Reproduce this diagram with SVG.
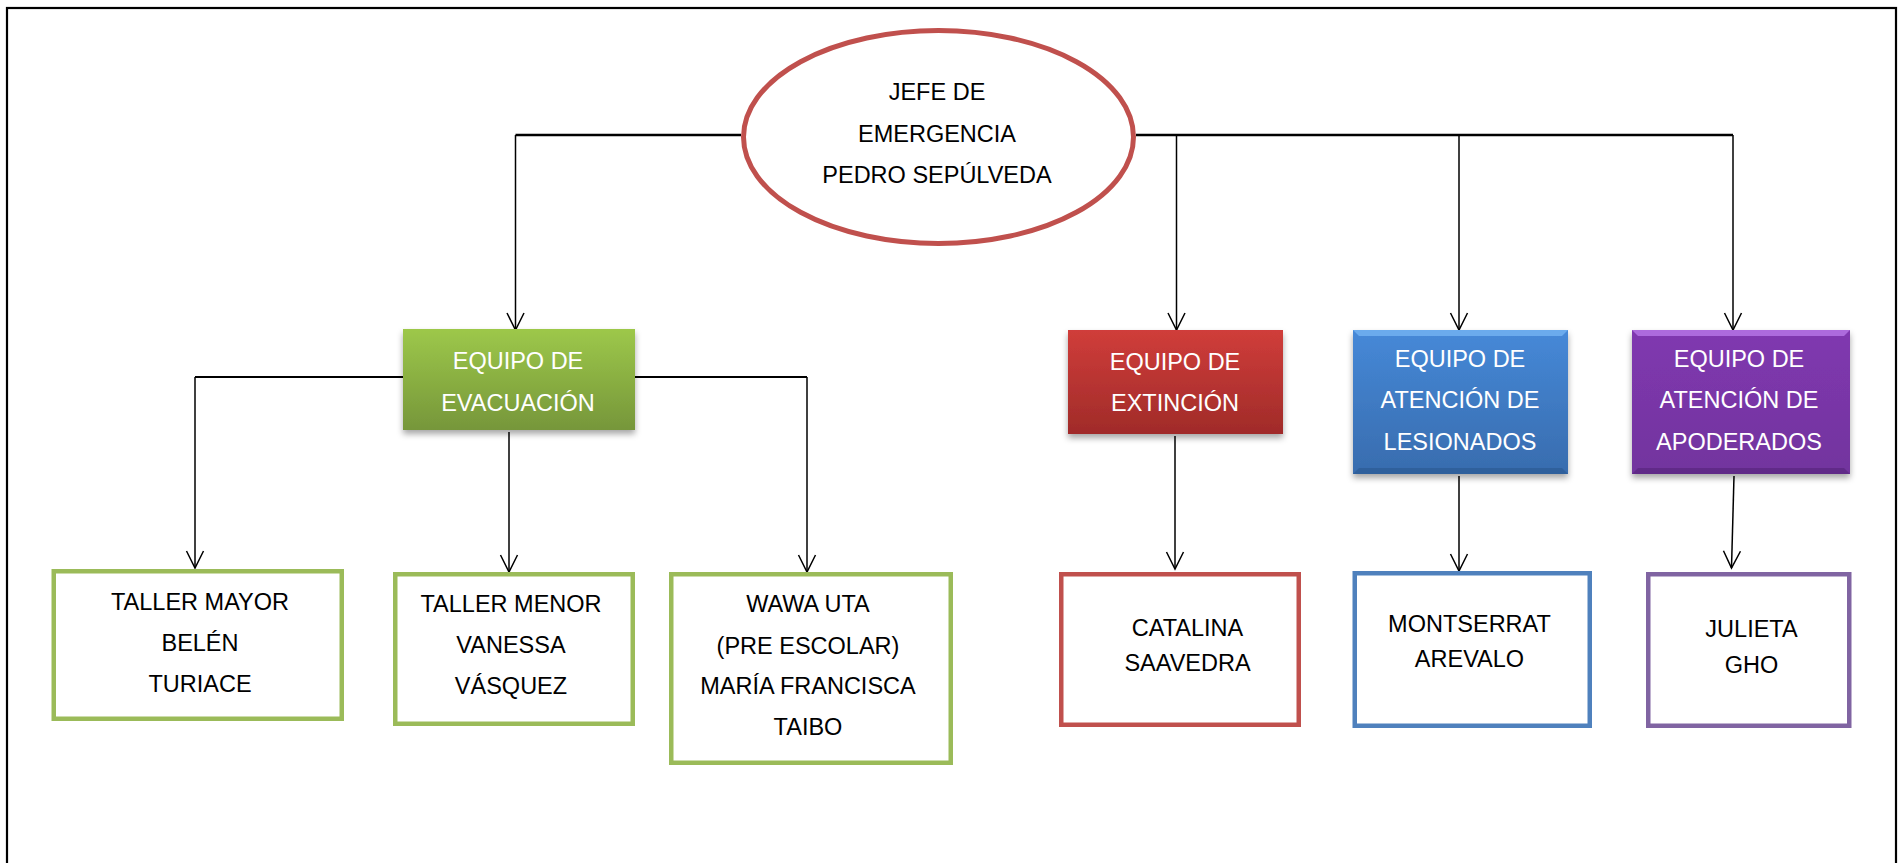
<svg xmlns="http://www.w3.org/2000/svg" width="1902" height="863" viewBox="0 0 1902 863">
<style>
text{font-family:"Liberation Sans",Arial,sans-serif;font-size:23.5px;text-anchor:middle}
.w{fill:#ffffff}
.k{fill:#000000}
.con{stroke:#000;fill:none}
.main{stroke-width:2.5}
.v{stroke-width:1.5}
.child{fill:#ffffff;stroke-width:4.5}
</style>
<defs>
<marker id="arr" markerUnits="userSpaceOnUse" viewBox="-20 -11 22 22" refX="0" refY="0" markerWidth="22" markerHeight="22" orient="auto" overflow="visible">
<path d="M-17,-8.5 L0,0 L-17,8.5" fill="none" stroke="#000" stroke-width="1.5"/>
</marker>
<linearGradient id="gG" x1="0" y1="0" x2="0" y2="1"><stop offset="0" stop-color="#9dc84a"/><stop offset="1" stop-color="#76963a"/></linearGradient>
<linearGradient id="gR" x1="0" y1="0" x2="0" y2="1"><stop offset="0" stop-color="#d03d3a"/><stop offset="1" stop-color="#a02b29"/></linearGradient>
<linearGradient id="gB" x1="0" y1="0" x2="0" y2="1"><stop offset="0" stop-color="#4689d8"/><stop offset="1" stop-color="#386cae"/></linearGradient>
<linearGradient id="gP" x1="0" y1="0" x2="0" y2="1"><stop offset="0" stop-color="#8038b0"/><stop offset="1" stop-color="#72349e"/></linearGradient>
<filter id="sh" x="-10%" y="-10%" width="120%" height="130%"><feDropShadow dx="0" dy="4" stdDeviation="3" flood-color="#000" flood-opacity="0.35"/></filter>
</defs>
<rect x="7" y="8" width="1889" height="870" fill="#fff" stroke="#000" stroke-width="2.2"/>
<g id="connectors">
<path class="con main" d="M741,135 H515.5"/>
<path class="con main" d="M1136,135 H1733"/>
<path class="con v" d="M515.5,135 V330" marker-end="url(#arr)"/>
<path class="con v" d="M1176.5,135 V330" marker-end="url(#arr)"/>
<path class="con v" d="M1459,135 V330" marker-end="url(#arr)"/>
<path class="con v" d="M1733,135 V330" marker-end="url(#arr)"/>
<path class="con" stroke-width="2" d="M403,377 H195"/>
<path class="con" stroke-width="2" d="M635,377 H807"/>
<path class="con v" d="M195,377 V568" marker-end="url(#arr)"/>
<path class="con v" d="M807,377 V572" marker-end="url(#arr)"/>
<path class="con v" d="M509,432 V572" marker-end="url(#arr)"/>
<path class="con v" d="M1175,436 V569" marker-end="url(#arr)"/>
<path class="con v" d="M1459,476 V571" marker-end="url(#arr)"/>
<path class="con v" d="M1734,476 L1731.5,568" marker-end="url(#arr)"/>
</g>
<g id="jefe">
<ellipse cx="938.5" cy="137" rx="195" ry="106.5" fill="#fff" stroke="#c0504d" stroke-width="5"/>
<text class="k" x="937" y="100">JEFE DE</text>
<text class="k" x="937" y="141.5">EMERGENCIA</text>
<text class="k" x="937" y="183">PEDRO SEPÚLVEDA</text>
</g>
<g id="evacuacion">
<rect x="403" y="329" width="232" height="101" fill="url(#gG)" filter="url(#sh)"/>
<text class="w" x="518" y="369">EQUIPO DE</text>
<text class="w" x="518" y="411">EVACUACIÓN</text>
</g>
<g id="extincion">
<rect x="1068" y="330" width="215" height="104" fill="url(#gR)" filter="url(#sh)"/>
<text class="w" x="1175" y="370">EQUIPO DE</text>
<text class="w" x="1175" y="411">EXTINCIÓN</text>
</g>
<g id="lesionados">
<rect x="1353" y="330" width="215" height="144" fill="url(#gB)" filter="url(#sh)"/>
<path d="M1353,330 H1568 L1562,336 H1359 Z" fill="#74b4f2" opacity="0.8"/>
<path d="M1353,474 H1568 L1562,468 H1359 Z" fill="#2a5890" opacity="0.6"/>
<text class="w" x="1460" y="367">EQUIPO DE</text>
<text class="w" x="1460" y="408">ATENCIÓN DE</text>
<text class="w" x="1460" y="450">LESIONADOS</text>
</g>
<g id="apoderados">
<rect x="1632" y="330" width="218" height="144" fill="url(#gP)" filter="url(#sh)"/>
<path d="M1632,330 H1850 L1844,336 H1638 Z" fill="#b878e8" opacity="0.8"/>
<path d="M1632,474 H1850 L1844,468 H1638 Z" fill="#55237a" opacity="0.6"/>
<text class="w" x="1739" y="367">EQUIPO DE</text>
<text class="w" x="1739" y="408">ATENCIÓN DE</text>
<text class="w" x="1739" y="450">APODERADOS</text>
</g>
<g id="taller-mayor">
<rect class="child" x="53.75" y="571.25" width="288" height="147.5" stroke="#9bbb59"/>
<text class="k" x="200" y="610">TALLER MAYOR</text>
<text class="k" x="200" y="651">BELÉN</text>
<text class="k" x="200" y="692">TURIACE</text>
</g>
<g id="taller-menor">
<rect class="child" x="395.25" y="574.25" width="237.5" height="149.5" stroke="#9bbb59"/>
<text class="k" x="511" y="612">TALLER MENOR</text>
<text class="k" x="511" y="653">VANESSA</text>
<text class="k" x="511" y="694">VÁSQUEZ</text>
</g>
<g id="wawa-uta">
<rect class="child" x="671.25" y="574.25" width="279.5" height="188.5" stroke="#9bbb59"/>
<text class="k" x="808" y="612">WAWA UTA</text>
<text class="k" x="808" y="654">(PRE ESCOLAR)</text>
<text class="k" x="808" y="694">MARÍA FRANCISCA</text>
<text class="k" x="808" y="735">TAIBO</text>
</g>
<g id="catalina">
<rect class="child" x="1061.25" y="574.25" width="237.5" height="150.5" stroke="#c0504d"/>
<text class="k" x="1187.5" y="636">CATALINA</text>
<text class="k" x="1187.5" y="671">SAAVEDRA</text>
</g>
<g id="montserrat">
<rect class="child" x="1354.75" y="573.25" width="235" height="152.5" stroke="#4f81bd"/>
<text class="k" x="1469.5" y="632">MONTSERRAT</text>
<text class="k" x="1469.5" y="667">AREVALO</text>
</g>
<g id="julieta">
<rect class="child" x="1648.25" y="574.25" width="201" height="151.5" stroke="#8064a2"/>
<text class="k" x="1751.5" y="637">JULIETA</text>
<text class="k" x="1751.5" y="673">GHO</text>
</g>
</svg>
